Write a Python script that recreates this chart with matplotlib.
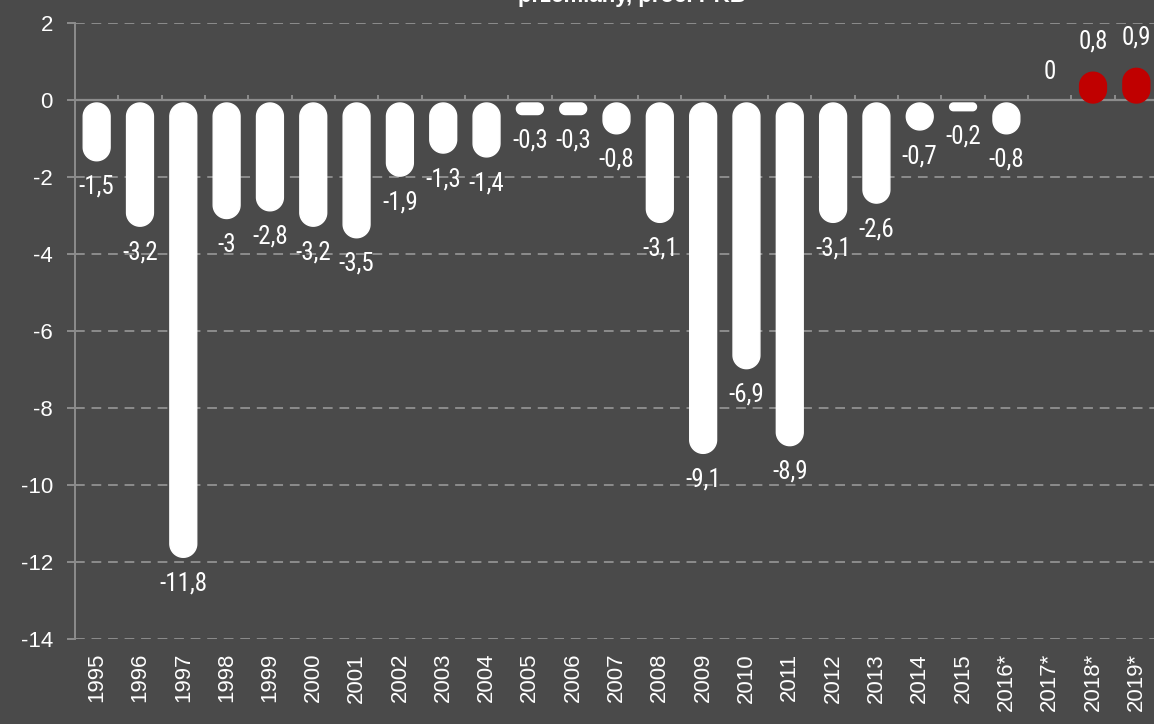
import numpy as np
import matplotlib
matplotlib.use("Agg")
import matplotlib.pyplot as plt
from matplotlib.patches import Polygon
from matplotlib import font_manager

# dane
years = ["1995", "1996", "1997", "1998", "1999", "2000", "2001", "2002", "2003", "2004",
         "2005", "2006", "2007", "2008", "2009", "2010", "2011", "2012", "2013", "2014",
         "2015", "2016*", "2017*", "2018*", "2019*"]
values = [-1.5, -3.2, -11.8, -3.0, -2.8, -3.2, -3.5, -1.9, -1.3, -1.4,
          -0.3, -0.3, -0.8, -3.1, -9.1, -6.9, -8.9, -3.1, -2.6, -0.7,
          -0.2, -0.8, 0.0, 0.8, 0.9]
labels = ["-1,5", "-3,2", "-11,8", "-3", "-2,8", "-3,2", "-3,5", "-1,9", "-1,3", "-1,4",
          "-0,3", "-0,3", "-0,8", "-3,1", "-9,1", "-6,9", "-8,9", "-3,1", "-2,6", "-0,7",
          "-0,2", "-0,8", "0", "0,8", "0,9"]
title = "przemiany, proc. PKB"

BG = "#4a4a4a"
GRID = "#8c8c8c"
RED = "#c00000"

W, H = 1154, 724
fig = plt.figure(figsize=(W / 100, H / 100), dpi=100, facecolor=BG)
ax_pos = [75 / W, 1 - 639 / H, 1083 / W, 616 / H]
ax = fig.add_axes(ax_pos, facecolor=BG)

n = len(values)
ax.set_xlim(-0.5, n - 0.5)
ax.set_ylim(-14, 2)

px_x = ax_pos[2] * W / n      # piksele na jednostke x
px_y = ax_pos[3] * H / 16     # piksele na jednostke y

def pill(xc, v, bw, color):
    # slupek z zaokraglonymi koncami
    y0, y1 = min(0, v), max(0, v)
    shift = 3 / px_y
    y0 -= shift
    y1 -= shift
    if y1 - y0 < 0.01:
        return
    w_px = bw * px_x
    h_px = (y1 - y0) * px_y
    r = min(w_px, h_px) / 2
    rx, ry = r / px_x, r / px_y
    x0, x1 = xc - bw / 2, xc + bw / 2
    pts = []
    corners = [(x1 - rx, y1 - ry, 0, 90), (x0 + rx, y1 - ry, 90, 180),
               (x0 + rx, y0 + ry, 180, 270), (x1 - rx, y0 + ry, 270, 360)]
    for cx, cy, a0, a1 in corners:
        t = np.radians(np.linspace(a0, a1, 20))
        pts += list(zip(cx + rx * np.cos(t), cy + ry * np.sin(t)))
    ax.add_patch(Polygon(pts, closed=True, facecolor=color, edgecolor=color,
                         linewidth=1, zorder=3))

# waska czcionka do etykiet, jesli jest
names = {f.name for f in font_manager.fontManager.ttflist}
narrow = [f for f in ["Roboto Condensed", "Liberation Sans Narrow", "DejaVu Sans"] if f in names]

xs = np.arange(n)
for i, v in enumerate(values):
    pill(xs[i], v, 0.62, RED if v > 0 else "white")
    off = 20 if v >= 0 else -21
    ax.annotate(labels[i], (xs[i], v), xytext=(0, off), textcoords="offset points",
                ha="center", va="center", color="white", fontsize=18,
                family=narrow, stretch="condensed", zorder=4)

# siatka
for y in range(-14, 3, 2):
    if y == 0:
        ax.axhline(0, color=GRID, lw=1.6, zorder=2)
    else:
        ax.axhline(y, color=GRID, lw=1.4, ls=(0, (5, 3.5)), zorder=1)

# znaczniki na osi zero
bounds = np.arange(n + 1) - 0.5
ax.vlines(bounds[1:], 0, 5 / px_y, color=GRID, lw=1.4, zorder=2)

for s in ["top", "right", "bottom"]:
    ax.spines[s].set_visible(False)
ax.spines["left"].set_color(GRID)
ax.spines["left"].set_linewidth(1.4)

ax.set_yticks(range(-14, 3, 2))
ax.set_yticklabels([str(t) for t in range(-14, 3, 2)])
ax.tick_params(axis="y", colors=GRID, length=6, width=1.4, pad=10,
               labelcolor="white", labelsize=16)
ax.set_xticks(xs)
ax.set_xticklabels(years, rotation=90, va="top")
ax.tick_params(axis="x", length=0, pad=10, labelcolor="white", labelsize=16)
for t in ax.get_xticklabels() + ax.get_yticklabels():
    t.set_family("Liberation Sans")

fig.text(632 / W, 1 - 2 / H, title, ha="center", va="baseline", color="white",
         fontsize=16, fontweight="bold", family="Liberation Sans")

fig.savefig("out.png", dpi=100, facecolor=BG)
